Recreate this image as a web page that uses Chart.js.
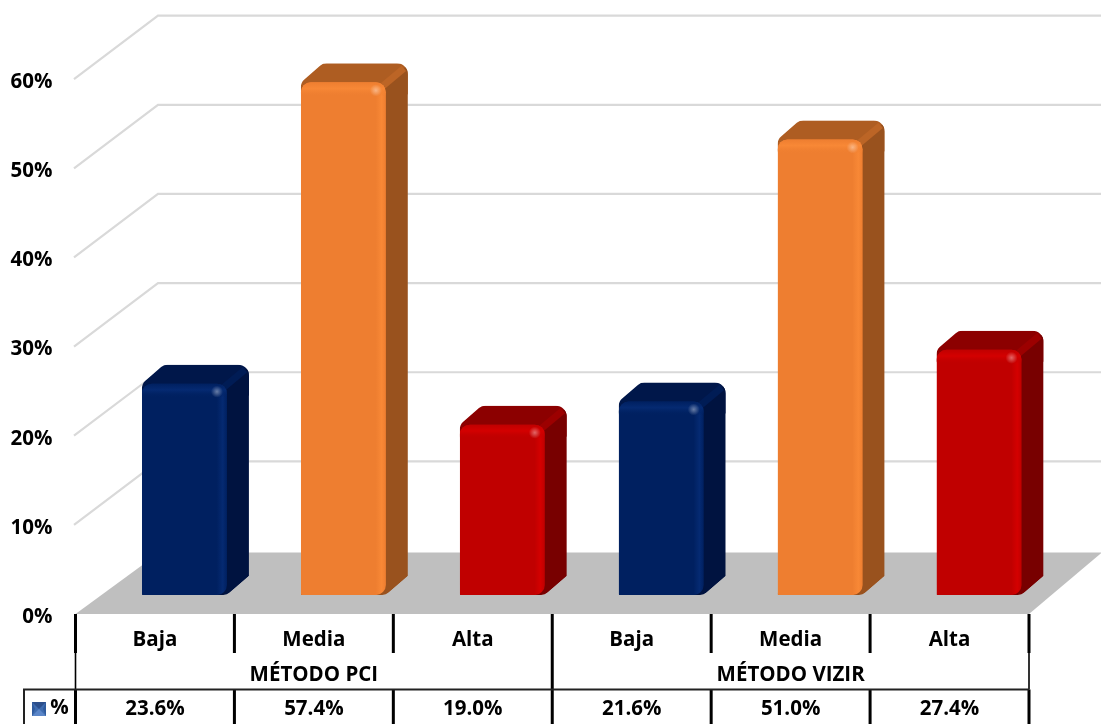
<!DOCTYPE html>
<html lang="es">
<head>
    <meta charset="UTF-8">
    <title>Método PCI y Método VIZIR</title>
    <script src="https://cdn.jsdelivr.net/npm/chart.js"></script>
    <style>
        html, body { margin: 0; padding: 0; background: #fff; }
        #chart-container { position: relative; width: 1101px; height: 724px; overflow: hidden; }
        canvas { display: block; }
    </style>
</head>
<body>

    <div id="chart-container">
        <canvas id="barChart"></canvas>
    </div>

    <script>
        const categories = ['Baja', 'Media', 'Alta', 'Baja', 'Media', 'Alta'];
        const groups = ['MÉTODO PCI', 'MÉTODO VIZIR'];
        const values = [23.6, 57.4, 19.0, 21.6, 51.0, 27.4];
        const yTicks = [0, 10, 20, 30, 40, 50, 60];
        const seriesName = '%';

        const barFront = ['#002060', '#EE7E30', '#C00000', '#002060', '#EE7E30', '#C00000'];
        const barLight = ['#052A72', '#F88836', '#D40000', '#052A72', '#F88836', '#D40000'];
        const barTop = ['#00174A', '#AE5D22', '#8C0000', '#00174A', '#AE5D22', '#8C0000'];
        const barRidge = ['#001C55', '#BC6526', '#9C0000', '#001C55', '#BC6526', '#9C0000'];
        const barSide = ['#001340', '#99521E', '#780000', '#001340', '#99521E', '#780000'];

        const font = '"Open Sans", "Noto Sans", sans-serif';
        const labelSize = 20.5;

        // bars stand further back on the floor than the front axis, so they get their own scale
        const yTop = 67.2;
        const floorLift = 2.13;

        // 3D offsets in px
        const wall = { dx: 84, dy: -63.5 };
        const depth = { dx: 22, dy: -19 };
        const barShift = 29.5;

        function cornerPath(ctx, pts, radii) {
            // closed polygon with rounded corners
            const n = pts.length;
            const a = pts[n - 1], b = pts[0];
            ctx.beginPath();
            ctx.moveTo((a[0] + b[0]) / 2, (a[1] + b[1]) / 2);
            for (let i = 0; i < n; i++) {
                const p = pts[i], q = pts[(i + 1) % n];
                ctx.arcTo(p[0], p[1], q[0], q[1], radii[i]);
            }
            ctx.closePath();
        }

        function drawBar(ctx, bar, i) {
            const w = bar.width;
            const x0 = bar.x + barShift - w / 2;
            const x1 = x0 + w;
            const yT = bar.y - 1;
            const yB = bar.base;
            const dx = depth.dx, dy = depth.dy;

            ctx.save();

            // outline of the whole block
            cornerPath(ctx, [
                [x0, yB], [x0, yT], [x0 + dx, yT + dy], [x1 + dx, yT + dy],
                [x1 + dx, yB + dy], [x1, yB]
            ], [1, 10, 10, 11, 0, 10]);
            ctx.clip();

            // top
            ctx.fillStyle = barTop[i];
            ctx.fillRect(x0, yT + dy, w + dx, -dy + 12);

            // side
            ctx.fillStyle = barSide[i];
            ctx.beginPath();
            ctx.moveTo(x1 - 9, yT + 7);
            ctx.lineTo(x1 + dx, yT + dy + 2);
            ctx.lineTo(x1 + dx, yB + dy);
            ctx.lineTo(x1, yB);
            ctx.lineTo(x0, yB);
            ctx.closePath();
            ctx.fill();

            // ridge between top and side
            ctx.strokeStyle = barRidge[i];
            ctx.lineWidth = 7;
            ctx.beginPath();
            ctx.moveTo(x1 - 6, yT + 6);
            ctx.lineTo(x1 + dx - 4, yT + dy + 5);
            ctx.stroke();

            // front face
            const across = ctx.createLinearGradient(x0, 0, x1, 0);
            across.addColorStop(0, barFront[i]);
            across.addColorStop(0.88, barFront[i]);
            across.addColorStop(0.95, barLight[i]);
            across.addColorStop(1, barFront[i]);
            ctx.fillStyle = across;
            cornerPath(ctx, [[x0, yB], [x0, yT], [x1, yT], [x1, yB]], [1, 10, 10, 10]);
            ctx.fill();

            // lit band along the top edge
            const band = ctx.createLinearGradient(0, yT, 0, yT + 14);
            band.addColorStop(0, barFront[i]);
            band.addColorStop(0.45, barLight[i]);
            band.addColorStop(1, barFront[i] + '00');
            ctx.fillStyle = band;
            cornerPath(ctx, [[x0, yT + 14], [x0, yT], [x1, yT], [x1, yT + 14]], [0, 10, 10, 0]);
            ctx.fill();

            // small highlight on the corner
            const spot = ctx.createRadialGradient(x1 - 10, yT + 8, 0, x1 - 10, yT + 8, 6);
            spot.addColorStop(0, 'rgba(255,255,255,0.4)');
            spot.addColorStop(1, 'rgba(255,255,255,0)');
            ctx.fillStyle = spot;
            ctx.fillRect(x1 - 17, yT + 1, 14, 14);

            ctx.restore();
        }

        const stage = {
            id: 'stage',
            beforeDatasetsDraw(chart) {
                const { ctx, chartArea, scales } = chart;
                const left = chartArea.left, right = chartArea.right;
                const yF = scales.yFront;
                const floorFront = yF.getPixelForValue(0);

                // back wall lines
                ctx.save();
                ctx.strokeStyle = '#D9D9D9';
                ctx.lineWidth = 2.2;
                ctx.lineJoin = 'miter';
                yTicks.slice(1).forEach(v => {
                    const y = yF.getPixelForValue(v);
                    ctx.beginPath();
                    ctx.moveTo(left - 1.5, y);
                    ctx.lineTo(left + wall.dx - 1.5, y + wall.dy);
                    ctx.lineTo(chart.width, y + wall.dy);
                    ctx.stroke();
                });

                // floor
                ctx.fillStyle = '#BFBFBF';
                ctx.beginPath();
                ctx.moveTo(left, floorFront);
                ctx.lineTo(right, floorFront);
                ctx.lineTo(right + 73, floorFront + wall.dy + 2);
                ctx.lineTo(left + wall.dx, floorFront + wall.dy + 2);
                ctx.closePath();
                ctx.fill();
                ctx.restore();
            },
            beforeDatasetDraw(chart, args) {
                // the library only lays the bars out, their 3D blocks are painted here
                args.meta.data.forEach((bar, i) => drawBar(chart.ctx, bar, i));
                return false;
            },
            afterDraw(chart) {
                const { ctx, chartArea, scales } = chart;
                const x = scales.x;
                const top = chartArea.bottom;
                const rowA = top + 39;
                const rowB = top + 75.5;
                const bottom = chart.height;
                const step = x.getPixelForValue(1) - x.getPixelForValue(0);
                const edge = i => x.getPixelForValue(0) - step / 2 + step * i;
                const meta = chart.getDatasetMeta(0);

                ctx.save();
                ctx.strokeStyle = '#000';

                // table frame
                for (let i = 0; i <= categories.length; i++) {
                    ctx.lineWidth = 3;
                    ctx.beginPath();
                    ctx.moveTo(edge(i), top);
                    ctx.lineTo(edge(i), rowA);
                    ctx.moveTo(edge(i), rowB);
                    ctx.lineTo(edge(i), bottom);
                    ctx.stroke();
                    ctx.lineWidth = i === 3 ? 3 : 1.6;
                    if (i % 3 === 0) {
                        ctx.beginPath();
                        ctx.moveTo(edge(i), rowA);
                        ctx.lineTo(edge(i), rowB);
                        ctx.stroke();
                    }
                }
                ctx.strokeStyle = '#222';
                ctx.lineWidth = 2;
                ctx.beginPath();
                ctx.moveTo(24, bottom);
                ctx.lineTo(24, rowB);
                ctx.lineTo(edge(categories.length), rowB);
                ctx.stroke();

                // group row and value row
                ctx.fillStyle = '#000';
                ctx.textAlign = 'center';
                ctx.textBaseline = 'middle';
                ctx.font = `bold ${labelSize}px ${font}`;
                groups.forEach((g, i) => {
                    ctx.fillText(g, (edge(i * 3) + edge(i * 3 + 3)) / 2, top + 61);
                });
                meta.data.forEach((bar, i) => {
                    ctx.fillText(values[i].toFixed(1) + '%', bar.x, top + 95);
                });
                ctx.fillText(seriesName, 59.5, top + 94);

                // legend key
                const k = { x: 32, y: 702, s: 14 };
                ctx.fillStyle = '#3F6CB0';
                ctx.fillRect(k.x, k.y, k.s, k.s);
                [['#2C4F8C', [0, 0], [k.s, 0], [k.s / 2, k.s / 2]],
                 ['#5B86C8', [0, k.s], [k.s, k.s], [k.s / 2, k.s / 2]],
                 ['#2F5A9C', [0, 0], [0, k.s], [3, k.s / 2]],
                 ['#2F5A9C', [k.s, 0], [k.s, k.s], [k.s - 3, k.s / 2]]].forEach(t => {
                    ctx.fillStyle = t[0];
                    ctx.beginPath();
                    ctx.moveTo(k.x + t[1][0], k.y + t[1][1]);
                    ctx.lineTo(k.x + t[2][0], k.y + t[2][1]);
                    ctx.lineTo(k.x + t[3][0], k.y + t[3][1]);
                    ctx.closePath();
                    ctx.fill();
                });
                ctx.restore();
            }
        };

        const chart = new Chart(document.getElementById('barChart').getContext('2d'), {
            type: 'bar',
            data: {
                labels: categories,
                datasets: [{
                    label: seriesName,
                    data: values,
                    yAxisID: 'y',
                    backgroundColor: barFront,
                    categoryPercentage: 1,
                    barPercentage: 0.535
                }]
            },
            options: {
                responsive: true,
                maintainAspectRatio: false,
                animation: false,
                events: [],
                layout: { padding: { top: 15, right: 72, left: 0, bottom: 0 } },
                plugins: { legend: { display: false }, tooltip: { enabled: false } },
                scales: {
                    x: {
                        grid: { display: false },
                        border: { display: false },
                        afterFit: scale => {
                            scale.height = 110;
                            scale.paddingLeft = scale.paddingRight = 0;
                        },
                        ticks: {
                            autoSkip: false,
                            maxRotation: 0,
                            padding: 6,
                            color: '#000',
                            font: { family: font, size: labelSize, weight: 'bold' }
                        }
                    },
                    yFront: {
                        position: 'left',
                        min: 0,
                        max: yTop,
                        grid: { display: false },
                        border: { display: false },
                        afterBuildTicks: scale => { scale.ticks = yTicks.map(v => ({ value: v })); },
                        afterFit: scale => {
                            scale.width = 75.5;
                            scale.paddingTop = scale.paddingBottom = 0;
                        },
                        ticks: {
                            padding: 15,
                            labelOffset: 3,
                            color: '#000',
                            font: { family: font, size: labelSize, weight: 'bold' },
                            callback: value => value + '%'
                        }
                    },
                    y: {
                        display: false,
                        min: -floorLift,
                        max: yTop - floorLift
                    }
                }
            },
            plugins: [stage]
        });
    </script>

</body>
</html>
